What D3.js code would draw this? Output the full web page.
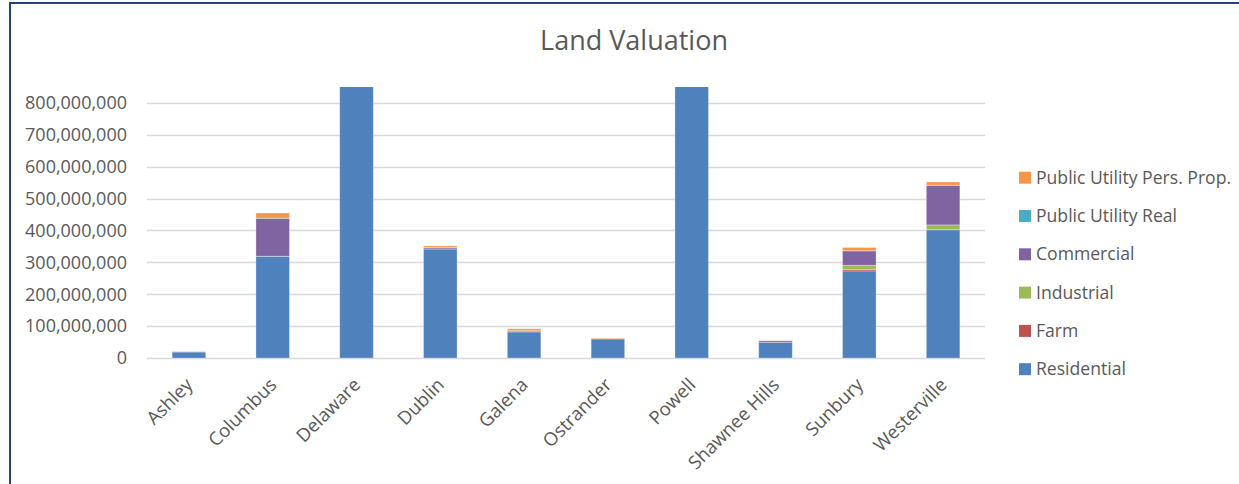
<!DOCTYPE html>
<html>
<head>
  <meta charset="utf-8">
  <script src="https://d3js.org/d3.v7.min.js"></script>
  <style>
    body { margin: 0; background: #fff; }
    text { font-family: "Open Sans", sans-serif; fill: #595959; }
  </style>
</head>
<body>
<script>
  "use strict";
  // town names along the x axis
  var towns = ["Ashley", "Columbus", "Delaware", "Dublin", "Galena",
               "Ostrander", "Powell", "Shawnee Hills", "Sunbury", "Westerville"];

  // values per category (dollars); Delaware and Powell run past the axis top
  var residential = [19e6, 319e6, 1200e6, 342e6, 82e6, 60e6, 1150e6, 49e6, 273e6, 402e6];
  var farm        = [0.3e6, 0, 0, 0, 0.2e6, 0, 0, 0, 4e6, 0.5e6];
  var industrial  = [0.5e6, 0.3e6, 0, 0.2e6, 0.2e6, 0, 0, 0, 14e6, 15e6];
  var commercial  = [0.5e6, 119e6, 0, 4e6, 3e6, 0.3e6, 0, 5e6, 45e6, 124e6];
  var puReal      = [0.2e6, 0.5e6, 0, 0.3e6, 0.3e6, 0.2e6, 0, 0.2e6, 0.5e6, 0.5e6];
  var puPers      = [0.5e6, 16e6, 0, 5e6, 6e6, 2e6, 0, 1e6, 10e6, 10e6];

  var seriesNames = ["Residential", "Farm", "Industrial", "Commercial",
                     "Public Utility Real", "Public Utility Pers. Prop."];
  var seriesColors = ["#4F81BD", "#C0504D", "#9BBB59", "#8064A2", "#4BACC6", "#F79646"];
  var yTicks = [0, 100e6, 200e6, 300e6, 400e6, 500e6, 600e6, 700e6, 800e6];

  var W = 1239, H = 484;
  var plot = { left: 147, right: 985, top: 87, bottom: 358 };

  var svg = d3.select("body").append("svg")
      .attr("width", W)
      .attr("height", H);

  // chart frame (only left and top edges are inside the window)
  svg.append("rect")
      .attr("x", 10).attr("y", 3)
      .attr("width", W + 50).attr("height", H + 50)
      .attr("fill", "#fff")
      .attr("stroke", "#24427a")
      .attr("stroke-width", 2);

  svg.append("text")
      .attr("x", 634).attr("y", 50)
      .attr("text-anchor", "middle")
      .style("font-size", "27px")
      .text("Land Valuation");

  var table = towns.map(function(t, i) {
    return {
      town: t,
      "Residential": residential[i],
      "Farm": farm[i],
      "Industrial": industrial[i],
      "Commercial": commercial[i],
      "Public Utility Real": puReal[i],
      "Public Utility Pers. Prop.": puPers[i]
    };
  });

  var x = d3.scaleBand().domain(towns).range([plot.left, plot.right]).padding(0);
  var y = d3.scaleLinear().domain([0, 850e6]).range([plot.bottom, plot.top]);
  var barW = x.bandwidth() * 0.4;

  // gridlines + y labels
  var grid = svg.append("g");
  grid.selectAll("line").data(yTicks).enter().append("line")
      .attr("x1", plot.left).attr("x2", plot.right)
      .attr("y1", function(d) { return Math.round(y(d)) + 0.5; })
      .attr("y2", function(d) { return Math.round(y(d)) + 0.5; })
      .attr("stroke", "#d9d9d9")
      .attr("stroke-width", 1.3);

  grid.selectAll("text").data(yTicks).enter().append("text")
      .attr("x", 127)
      .attr("y", function(d) { return y(d); })
      .attr("dy", "0.35em")
      .attr("text-anchor", "end")
      .style("font-size", "18px")
      .text(d3.format(","));

  svg.append("clipPath").attr("id", "plotclip")
    .append("rect")
      .attr("x", plot.left).attr("y", plot.top)
      .attr("width", plot.right - plot.left)
      .attr("height", plot.bottom - plot.top);

  var stacked = d3.stack().keys(seriesNames)(table);

  var bars = svg.append("g").attr("clip-path", "url(#plotclip)");
  bars.selectAll("g").data(stacked).enter().append("g")
      .attr("fill", function(d, i) { return seriesColors[i]; })
    .selectAll("rect").data(function(d) { return d; }).enter().append("rect")
      .attr("x", function(d) { return x(d.data.town) + (x.bandwidth() - barW) / 2; })
      .attr("width", barW)
      .attr("y", function(d) { return y(d[1]); })
      .attr("height", function(d) { return Math.max(0, y(d[0]) - y(d[1])); })
      .attr("stroke", "#fff")
      .attr("stroke-opacity", 0.35)
      .attr("stroke-width", 0.8);

  // rotated category labels
  svg.append("g").selectAll("text").data(towns).enter().append("text")
      .attr("transform", function(d) {
        return "translate(" + (x(d) + x.bandwidth() / 2 + 5) + ",386) rotate(-45)";
      })
      .attr("text-anchor", "end")
      .style("font-size", "18.5px")
      .text(function(d) { return d; });

  // legend, top entry is the last series
  var legendNames = seriesNames.slice().reverse();
  var legendColors = seriesColors.slice().reverse();
  var legend = svg.append("g").selectAll("g").data(legendNames).enter().append("g")
      .attr("transform", function(d, i) { return "translate(1019," + (177.7 + i * 38.3) + ")"; });

  legend.append("rect")
      .attr("x", 0).attr("y", -6)
      .attr("width", 12).attr("height", 12)
      .attr("fill", function(d, i) { return legendColors[i]; });

  legend.append("text")
      .attr("x", 17).attr("dy", "0.35em")
      .style("font-size", "17.6px")
      .text(function(d) { return d; });
</script>
</body>
</html>
